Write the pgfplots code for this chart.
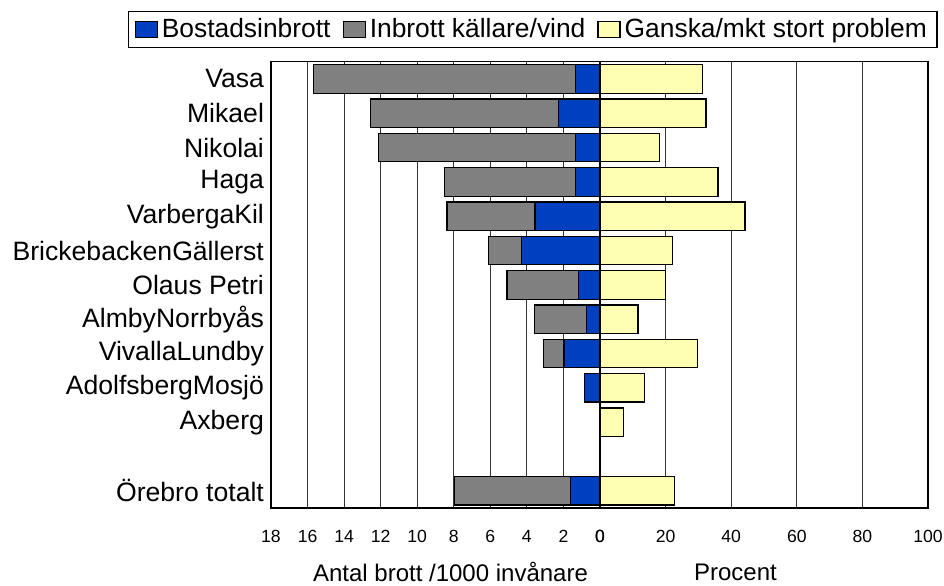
\documentclass[border=0pt]{standalone}
\usepackage{pgfplots}
\pgfplotsset{compat=1.18}
\usepackage{pgfplotstable}
\usepackage{fontspec}
\setmainfont{Liberation Sans}

\definecolor{bostblue}{HTML}{0040C0}
\definecolor{kallgray}{HTML}{808080}
\definecolor{probyellow}{HTML}{FFFFB4}

% y = row (0 = Vasa ... 12 = Örebro totalt, 11 left empty)
% bost, kall: antal brott /1000 invånare; prob: procent
\pgfplotstableread{
y bost kall prob
0 1.33 14.36 31.3
1 2.26 10.31 32.3
2 1.33 10.77 18.2
3 1.33 7.17 36.0
4 3.56 4.81 44.2
5 4.29 1.80 22.2
6 1.17 3.92 20.0
7 0.73 2.86 11.6
8 1.97 1.10 29.7
9 0.84 0 13.6
10 0 0 7.1
12 1.60 6.37 22.7
}\omrade

\pgfplotsset{
  halfaxis/.style={
    scale only axis, height=223.15pt,
    ymin=-0.5, ymax=12.5, y dir=reverse,
    xmajorgrids, grid style={black!80, line width=0.5pt},
    axis line style={black, line width=0.6pt},
    major tick length=0pt,
    /pgf/number format/assume math mode=true,
    xticklabel style={font=\fontsize{8.8}{10}\selectfont, yshift=-7.5pt},
    bar width=0.83,
  },
}

\begin{document}
\begin{tikzpicture}
\path[use as bounding box, clip] (-135.5pt,-38.5pt) rectangle (336.5pt,254pt);

\begin{axis}[halfaxis, at={(0pt,0pt)}, anchor=south west, width=164.5pt,
  xmin=0, xmax=18, x dir=reverse, xtick={0,2,...,18},
  ytick={0,1,2,3,4,5,6,7,8,9,10,12},
  yticklabels={Vasa, Mikael, Nikolai, Haga, VarbergaKil, BrickebackenGällerst,
    Olaus Petri, AlmbyNorrbyås, VivallaLundby, AdolfsbergMosjö, Axberg,
    Örebro totalt\hspace{4.5pt}},
  yticklabel style={font=\fontsize{13.3}{15}\selectfont},
  xbar stacked]
  \addplot[fill=bostblue, draw=black, line width=0.6pt] table[x=bost, y=y] {\omrade};
  \addplot[fill=kallgray, draw=black, line width=0.6pt] table[x=kall, y=y] {\omrade};
\end{axis}

\begin{axis}[halfaxis, at={(164.5pt,0pt)}, anchor=south west, width=164pt,
  xmin=0, xmax=100, xtick={0,20,...,100}, ytick=\empty, xbar,
  legend image code/.code={\draw[#1, line width=0.6pt] (0pt,-3.9pt) rectangle (11pt,3.9pt);},
  legend style={at={(-1.439,1.1143)}, anchor=north west, legend columns=3,
    draw=black, line width=0.6pt, font=\fontsize{13.2}{15}\selectfont,
    inner xsep=3pt, inner ysep=1.6pt,
    /tikz/every even column/.append style={column sep=4pt}},
  ]
  \addlegendimage{fill=bostblue, draw=black}
  \addlegendimage{fill=kallgray, draw=black}
  \addplot[fill=probyellow, draw=black, line width=0.6pt] table[x=prob, y=y] {\omrade};
  \legend{Bostadsinbrott, Inbrott källare/vind, Ganska/mkt stort problem}
\end{axis}

\draw[line width=1pt] (164.5pt,0pt) -- (164.5pt,223.15pt);
\node[font=\fontsize{12}{14}\selectfont] at (89.75pt,-32pt) {Antal brott /1000 invånare};
\node[font=\fontsize{12}{14}\selectfont] at (232.25pt,-32pt) {Procent};
\end{tikzpicture}
\end{document}
